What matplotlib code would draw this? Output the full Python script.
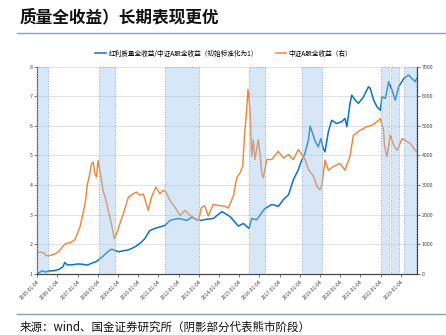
import numpy as np
import matplotlib
matplotlib.use("Agg")
import matplotlib.pyplot as plt
from matplotlib.lines import Line2D

plt.rcParams['font.family'] = ['Noto Sans CJK SC', 'DejaVu Sans']

# ---------------- data ----------------
blue_dates = ["2005-01-04","2005-02-20","2005-04-01","2005-06-01","2005-08-01","2005-11-01",
              "2006-02-01","2006-04-15","2006-05-15","2006-07-01","2006-10-01","2007-01-01",
              "2007-04-01","2007-07-01","2007-10-01","2007-12-01","2008-01-25","2008-04-01",
              "2008-06-01","2008-08-10","2008-09-15","2008-11-13","2009-01-20","2009-04-15",
              "2009-07-01","2009-09-15","2009-11-15","2010-02-05","2010-05-01","2010-08-01",
              "2010-12-01","2011-05-01","2011-08-01","2011-12-01","2012-02-01","2012-06-01",
              "2012-09-01","2012-12-01","2013-02-01","2013-05-25","2013-09-25","2014-02-25",
              "2014-07-25","2014-12-20","2015-03-20","2015-07-01","2015-08-20","2015-11-15",
              "2016-04-10","2016-08-15","2016-12-15","2017-03-15","2017-06-15","2017-09-10",
              "2017-12-10","2018-01-20","2018-03-10","2018-04-10","2018-06-10","2018-07-10",
              "2018-08-25","2018-10-05","2018-12-05","2019-01-20","2019-03-05","2019-04-05",
              "2019-06-05","2019-08-05","2019-11-01","2020-02-01","2020-04-01","2020-05-05",
              "2020-07-01","2020-08-01","2020-10-01","2020-12-01","2021-03-01","2021-05-30",
              "2021-07-01","2021-09-01","2021-11-01","2021-12-31","2022-01-30","2022-04-01",
              "2022-05-30","2022-07-30","2022-09-27","2022-11-27","2023-03-01","2023-05-25",
              "2023-07-25","2023-09-25","2023-10-18"]
blue_values = [1.00,1.05,1.10,1.06,1.09,1.10,
               1.15,1.24,1.38,1.30,1.30,1.33,
               1.32,1.29,1.37,1.40,1.48,1.58,
               1.69,1.80,1.83,1.78,1.74,1.78,
               1.80,1.86,1.92,2.03,2.18,2.46,
               2.55,2.63,2.80,2.86,2.86,2.80,
               2.91,2.82,2.80,2.84,2.87,3.10,
               2.93,2.61,2.70,2.53,2.87,2.82,
               3.20,3.34,3.28,3.51,3.67,4.18,
               4.52,4.75,4.95,5.08,5.53,5.99,
               5.74,5.50,5.29,5.57,5.23,5.12,
               5.80,6.19,6.08,6.14,6.25,5.97,
               6.76,7.04,6.87,6.76,6.98,7.32,
               7.27,6.87,6.64,6.53,6.98,6.93,
               7.49,7.21,6.87,7.32,7.60,7.72,
               7.60,7.49,7.60]

orange_dates = ["2005-01-04","2005-03-01","2005-05-01","2005-06-15","2005-08-01","2005-10-01",
                "2005-12-01","2006-02-01","2006-04-01","2006-06-01","2006-09-01","2006-11-15",
                "2007-02-15","2007-04-10","2007-05-28","2007-06-25","2007-07-30","2007-09-12",
                "2007-10-12","2007-11-10","2007-12-10","2008-01-08","2008-02-20","2008-04-08",
                "2008-05-30","2008-07-10","2008-09-05","2008-10-28","2008-12-20","2009-02-05",
                "2009-04-10","2009-07-10","2009-10-05","2009-12-05","2010-02-05","2010-04-05",
                "2010-07-05","2010-09-01","2010-11-20","2011-02-01","2011-04-01","2011-05-20",
                "2011-07-30","2011-10-30","2012-01-30","2012-05-01","2012-07-30","2012-10-25",
                "2012-12-31","2013-02-15","2013-04-20","2013-06-25","2013-09-20","2014-01-20",
                "2014-04-20","2014-06-20","2014-09-20","2014-11-20","2015-01-20","2015-03-08",
                "2015-04-10","2015-05-10","2015-06-12","2015-07-20","2015-08-18","2015-09-15",
                "2015-10-15","2015-11-15","2015-12-16","2016-01-15","2016-02-15","2016-03-15",
                "2016-05-15","2016-08-15","2016-12-10","2017-03-15","2017-06-15","2017-09-10",
                "2017-12-10","2018-02-10","2018-04-10","2018-06-10","2018-09-10","2018-11-10",
                "2019-01-04","2019-02-10","2019-04-05","2019-06-05","2019-09-01","2020-01-02",
                "2020-03-30","2020-06-30","2020-08-30","2021-01-01","2021-05-01","2021-08-01",
                "2021-11-01","2022-01-01","2022-02-28","2022-03-15","2022-04-27","2022-07-01",
                "2022-09-01","2022-10-31","2023-01-30","2023-06-30","2023-09-01","2023-10-18"]
orange_values = [720,740,700,610,600,640,
                 680,760,900,1020,1050,1150,
                 1580,2030,2480,2990,3270,3720,
                 3770,3380,3270,3830,3380,2820,
                 2480,2140,1690,1180,1410,1690,
                 2030,2590,2700,2760,2650,2700,
                 2140,2590,2930,2700,2820,2760,
                 2480,2250,1970,2140,1970,1860,
                 1800,2220,2300,1950,2340,2300,
                 2280,2220,2620,3240,3410,3630,
                 4650,5320,6230,5550,3970,4530,
                 3860,4200,4530,4080,3410,3240,
                 3860,3860,4140,3910,4030,3860,
                 4200,4030,3860,3520,3290,2950,
                 2840,3000,3845,3500,3620,3730,
                 3500,3960,4680,4850,4970,5020,
                 5140,5250,4850,4340,3950,4680,
                 4340,4170,4570,4400,4230,4120]

bear_starts = ["2005-01-04","2008-01-25","2011-05-06","2015-07-01","2018-02-20",
               "2022-01-20","2022-07-15","2023-03-13"]
bear_ends = ["2005-07-25","2008-11-10","2013-01-04","2016-04-08","2019-02-05",
             "2022-06-03","2022-12-05","2023-10-06"]

tick_years = list(range(2005, 2024))
tick_labels = [f"{y}-01-04" for y in tick_years]

left_ticks = [1, 2, 3, 4, 5, 6, 7, 8]
right_ticks = [0, 1000, 2000, 3000, 4000, 5000, 6000, 7000]

label_blue = "红利质量全收益/中证A股全收益（初始标准化为1）"
label_orange = "中证A股全收益（右）"
title = "质量全收益）长期表现更优"
source = "来源：wind、国金证券研究所（阴影部分代表熊市阶段）"

# ---------------- figure ----------------
W, H = 446, 335
fig = plt.figure(figsize=(W / 100, H / 100), dpi=100)
ax = fig.add_axes([37.3 / W, 1 - 273.7 / H, (416.7 - 37.3) / W, (273.7 - 66.7) / H])
ax2 = ax.twinx()

blue_c = "#0A72C8"
orange_c = "#EE8235"

bd = np.array(blue_dates, dtype="datetime64[D]")
od = np.array(orange_dates, dtype="datetime64[D]")
ax.plot(bd, blue_values, color=blue_c, lw=1.1, zorder=3)
ax2.plot(od, orange_values, color=orange_c, lw=1.0, zorder=2)

for s, e in zip(bear_starts, bear_ends):
    ax2.axvspan(np.datetime64(s), np.datetime64(e),
                facecolor=(0.62, 0.77, 0.92, 0.40), edgecolor="#8ea8c9",
                linestyle=":", lw=0.7, zorder=4)

ax.set_ylim(1, 8)
ax2.set_ylim(0, 7000)
ax.set_yticks(left_ticks)
ax.set_yticklabels([str(v) for v in left_ticks])
ax2.set_yticks(right_ticks)
ax2.set_yticklabels([str(v) for v in right_ticks])

ax.set_xlim(np.datetime64("2005-01-04"), np.datetime64("2023-10-20"))
ticks = [np.datetime64(t) for t in tick_labels]
ax.set_xticks(ticks)
ax.set_xticklabels(tick_labels, rotation=45, ha="right", rotation_mode="anchor")

ax.grid(axis="y", color="#e3e3e3", lw=0.7)
ax.set_axisbelow(True)

for a in (ax, ax2):
    a.spines["top"].set_visible(False)
    for sp in ("left", "right", "bottom"):
        a.spines[sp].set_color("#444444")
        a.spines[sp].set_linewidth(0.8)
    a.tick_params(length=2, width=0.5, colors="#444444", pad=1.5)
ax.tick_params(axis="x", labelsize=3.6)
ax.tick_params(axis="y", labelsize=3.8)
ax2.tick_params(axis="y", labelsize=3.8)

handles = [Line2D([], [], color=blue_c, lw=1.1), Line2D([], [], color=orange_c, lw=1.1)]
fig.legend(handles, [label_blue, label_orange], loc="center",
           bbox_to_anchor=(224 / W, 1 - 53.7 / H), ncol=2, frameon=False,
           fontsize=4.8, handlelength=1.6, columnspacing=2.6, handletextpad=0.4)

fig.text(20 / W, 1 - 17 / H, title, fontsize=12, fontweight="bold",
         ha="left", va="center", color="#111111")
fig.add_artist(Line2D([17 / W, 1.0], [1 - 32.5 / H] * 2, color="#86a3bb", lw=1.0))
fig.add_artist(Line2D([17 / W, 1.0], [1 - 314 / H] * 2, color="#86a3bb", lw=1.0))
fig.text(20 / W, 1 - 327 / H, source, fontsize=8.3, ha="left", va="center", color="#111111")

fig.savefig("out.png", dpi=100)
